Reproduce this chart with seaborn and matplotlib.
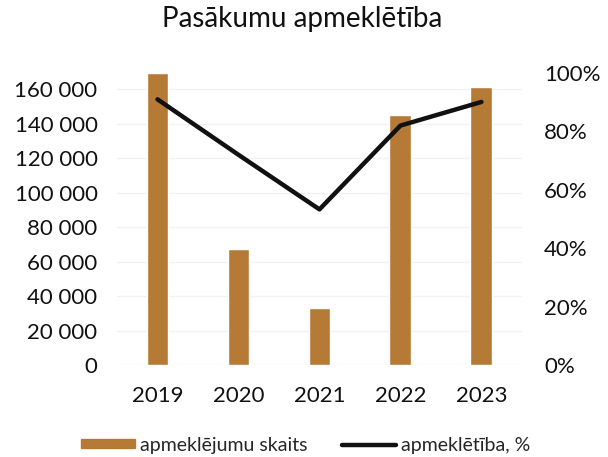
import numpy as np
import pandas as pd
import matplotlib
matplotlib.use("Agg")
import matplotlib.pyplot as plt
import seaborn as sns
from matplotlib.ticker import FuncFormatter, MultipleLocator
from matplotlib.patches import Patch
from matplotlib.lines import Line2D

years = ["2019", "2020", "2021", "2022", "2023"]
visits = [169500, 67200, 33200, 145000, 161200]
attendance = [91, 72, 53.3, 82, 90.1]

sns.set_theme(style="white")
plt.rcParams["font.family"] = ["Lato", "DejaVu Sans"]

df = pd.DataFrame({"year": years, "visits": visits, "pct": attendance})

fig = plt.figure(figsize=(6.08, 4.57), dpi=100)
ax = fig.add_axes([0.1924, 0.2013, 0.666, 0.6389])

bar_color = "#b57a36"
sns.barplot(data=df, x="year", y="visits", color=bar_color, width=0.27,
            saturation=1, ax=ax, zorder=2)
ax.set_ylim(0, 169300)
ax.yaxis.set_major_locator(MultipleLocator(20000))
ax.yaxis.set_major_formatter(FuncFormatter(lambda v, p: f"{int(v):,}".replace(",", " ")))
ax.grid(axis="y", color="#f2f2f2", linewidth=1, zorder=0)
ax.set_xlabel("")
ax.set_ylabel("")
ax.tick_params(axis="both", length=0, labelsize=16, colors="#111111")
ax.tick_params(axis="y", pad=14)
ax.tick_params(axis="x", pad=15)
for s in ax.spines.values():
    s.set_visible(False)

ax2 = ax.twinx()
sns.pointplot(data=df, x="year", y="pct", color="#111111", markers="",
              linewidth=3.2, ax=ax2)
ax2.set_ylim(0, 100)
ax2.yaxis.set_major_locator(MultipleLocator(20))
ax2.yaxis.set_major_formatter(FuncFormatter(lambda v, p: f"{int(v)}%"))
ax2.set_ylabel("")
ax2.tick_params(axis="y", length=0, labelsize=16, colors="#111111", pad=16)
for s in ax2.spines.values():
    s.set_visible(False)

fig.text(0.497, 0.958, "Pasākumu apmeklētība", fontsize=20, ha="center", va="center",
         color="#111111")

handles = [Patch(color=bar_color), Line2D([0], [0], color="#111111", linewidth=3.2)]
fig.legend(handles, ["apmeklējumu skaits", "apmeklētība, %"], loc="center",
           bbox_to_anchor=(0.5025, 0.026), ncol=2, frameon=False, fontsize=14,
           handlelength=2.8, handleheight=0.3, handletextpad=0.25, columnspacing=1.75)

fig.savefig("out.png", dpi=100)
